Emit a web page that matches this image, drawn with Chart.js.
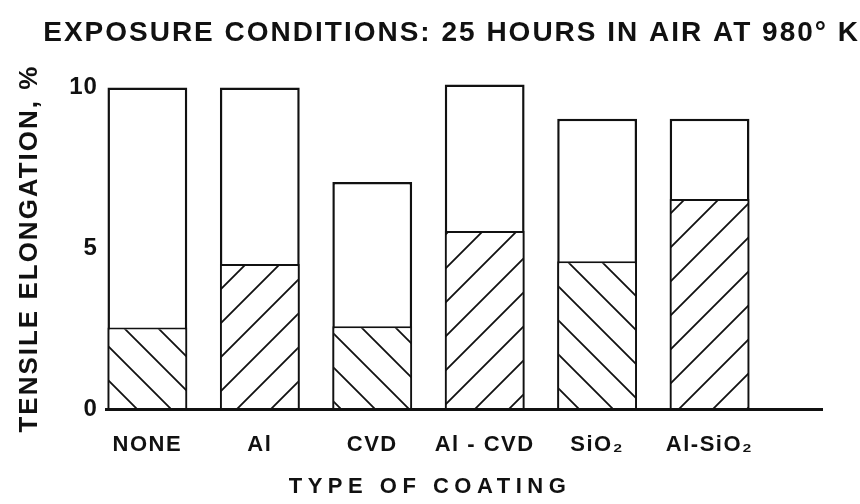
<!DOCTYPE html>
<html>
<head>
<meta charset="utf-8">
<title>Tensile elongation by type of coating</title>
<script src="https://cdn.jsdelivr.net/npm/chart.js@4.4.1/dist/chart.umd.min.js"></script>
<style>
    html, body { margin: 0; padding: 0; background: #fff; }
    #wrap { width: 860px; height: 504px; }
</style>
</head>
<body>
<div id="wrap"><canvas id="coating-chart"></canvas></div>
<script>
// values, tensile elongation in %
var coatings = ['NONE', 'Al', 'CVD', 'Al - CVD', 'SiO₂', 'Al-SiO₂'];
var unexposed = [10, 10, 7.07, 10.1, 9.03, 9.03];
var exposed = [2.55, 4.52, 2.59, 5.55, 4.61, 6.54];
// hatch direction of the exposed part of each bar
var hatchDirs = ['\\', '/', '\\', '/', '\\', '/'];
var yTicks = [0, 5, 10];

document.addEventListener('DOMContentLoaded', function() {
    var ink = '#111';
    Chart.defaults.font.family = '"Liberation Sans", Arial, sans-serif';
    Chart.defaults.font.weight = 'bold';
    Chart.defaults.color = ink;

    // diagonal hatch as a repeating canvas pattern
    function makeHatch(dir) {
        var s = 34;
        var c = document.createElement('canvas');
        c.width = s;
        c.height = s;
        var g = c.getContext('2d');
        g.fillStyle = '#fff';
        g.fillRect(0, 0, s, s);
        g.strokeStyle = ink;
        g.lineWidth = 1.8;
        g.beginPath();
        if (dir === '/') {
            g.moveTo(0, s); g.lineTo(s, 0);
            g.moveTo(-2, 2); g.lineTo(2, -2);
            g.moveTo(s - 2, s + 2); g.lineTo(s + 2, s - 2);
        } else {
            g.moveTo(0, 0); g.lineTo(s, s);
            g.moveTo(-2, s - 2); g.lineTo(2, s + 2);
            g.moveTo(s - 2, -2); g.lineTo(s + 2, 2);
        }
        g.stroke();
        return g.createPattern(c, 'repeat');
    }

    // the old lettering is widely spaced, so space each text block on its own
    function spaced(obj, method, px) {
        var orig = obj[method];
        if (orig._spaced) return;
        var fn = function() {
            var ctx = this.ctx;
            var prev = ctx.letterSpacing;
            ctx.letterSpacing = px + 'px';
            orig.apply(this, arguments);
            ctx.letterSpacing = prev;
        };
        fn._spaced = true;
        obj[method] = fn;
    }

    var spacing = {
        id: 'spacing',
        afterLayout: function(chart) {
            spaced(chart.scales.x, 'drawLabels', 1.5);
            spaced(chart.scales.y, 'drawLabels', 1);
            spaced(chart.scales.y, 'drawTitle', 2);
            chart.boxes.forEach(function(box) {
                if (!box.options || typeof box.options.text !== 'string') return;
                spaced(box, 'draw', box.options.position === 'bottom' ? 5.5 : 2);
            });
        }
    };

    var ctx = document.getElementById('coating-chart').getContext('2d');
    var chart = new Chart(ctx, {
        type: 'bar',
        data: {
            datasets: [
                {
                    label: 'After exposure',
                    data: coatings.map(function(c, i) { return {x: i, y: exposed[i]}; }),
                    backgroundColor: hatchDirs.map(makeHatch),
                    borderColor: ink,
                    borderWidth: 2,
                    grouped: false,
                    order: 0,
                    clip: false,
                    barPercentage: 0.71,
                    categoryPercentage: 1
                },
                {
                    label: 'Unexposed',
                    data: coatings.map(function(c, i) { return {x: i, y: unexposed[i]}; }),
                    backgroundColor: '#fff',
                    borderColor: ink,
                    borderWidth: 2.5,
                    grouped: false,
                    order: 1,
                    clip: false,
                    barPercentage: 0.71,
                    categoryPercentage: 1
                }
            ]
        },
        options: {
            responsive: true,
            maintainAspectRatio: false,
            animation: false,
            layout: { padding: 0 },
            plugins: {
                legend: { display: false },
                tooltip: { enabled: false },
                title: {
                    display: true,
                    text: 'EXPOSURE CONDITIONS: 25 HOURS IN AIR AT 980° K',
                    align: 'end',
                    color: ink,
                    font: { size: 28, weight: 'bold' },
                    padding: { top: 16, bottom: 38 }
                },
                subtitle: {
                    display: true,
                    position: 'bottom',
                    text: 'TYPE OF COATING',
                    color: ink,
                    font: { size: 22, weight: 'bold', lineHeight: 1 },
                    padding: { top: -4, bottom: 6 }
                }
            },
            scales: {
                x: {
                    type: 'linear',
                    offset: false,
                    min: -0.36,
                    max: 6.0,
                    grid: { display: false, drawTicks: false, offset: false },
                    border: { display: true, color: ink, width: 3, z: 1 },
                    afterBuildTicks: function(s) {
                        s.ticks = coatings.map(function(c, i) { return {value: i}; });
                    },
                    ticks: {
                        padding: 22,
                        autoSkip: false,
                        maxRotation: 0,
                        font: { size: 22, weight: 'bold' },
                        callback: function(v) { return coatings[v]; }
                    }
                },
                y: {
                    min: 0,
                    max: 10,
                    grid: { display: false, drawTicks: false },
                    border: { display: false },
                    afterBuildTicks: function(s) {
                        s.ticks = yTicks.map(function(v) { return {value: v}; });
                    },
                    ticks: {
                        padding: 9,
                        font: { size: 24, weight: 'bold' }
                    },
                    title: {
                        display: true,
                        text: 'TENSILE ELONGATION, %',
                        font: { size: 26, weight: 'bold' },
                        padding: { top: 14, bottom: 17 }
                    }
                },
                yRight: {
                    position: 'right',
                    grid: { display: false, drawTicks: false },
                    border: { display: false },
                    ticks: { display: false },
                    afterFit: function(s) { s.width = 38; }
                }
            }
        },
        plugins: [spacing]
    });
});
</script>
</body>
</html>
